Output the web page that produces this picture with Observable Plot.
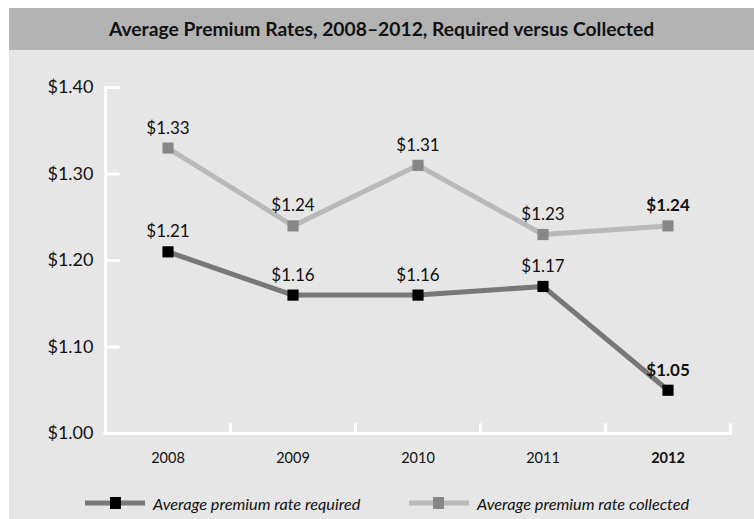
<!DOCTYPE html>
<html>
<head>
<meta charset="utf-8">
<script src="https://cdn.jsdelivr.net/npm/d3@7"></script>
<script src="https://cdn.jsdelivr.net/npm/@observablehq/plot@0.6"></script>
<style>
  html, body { margin: 0; padding: 0; background: #fff; }
  body { width: 754px; height: 519px; position: relative; overflow: hidden; font-family: Lato, "Open Sans", sans-serif; }
  #panel { position: absolute; left: 9px; top: 8px; width: 745px; height: 511px; background: #e6e6e6; }
  #title { height: 42px; line-height: 42px; background: #b3b3b3; text-align: center; font-weight: bold; font-size: 19.3px; color: #111; }
  #chart { position: absolute; left: 0; top: 42px; }
  .leg { position: absolute; top: 484px; height: 22px; display: flex; align-items: center; font-style: italic; font-size: 16.3px; color: #111; }
  .leg svg { display: block; margin-right: 8px; }
</style>
</head>
<body>
<div id="panel">
  <div id="title">Average Premium Rates, 2008–2012, Required versus Collected</div>
  <div id="chart"></div>
  <div class="leg" style="left:76px"><svg width="60" height="14"><line x1="0" x2="60" y1="7" y2="7" stroke="#777" stroke-width="5"/><rect x="25" y="1" width="11" height="12" fill="#000"/></svg>Average premium rate required</div>
  <div class="leg" style="left:400px"><svg width="60" height="14"><line x1="0" x2="60" y1="7" y2="7" stroke="#b9b9b9" stroke-width="5"/><rect x="24" y="1" width="11" height="12" fill="#878787"/></svg>Average premium rate collected</div>
</div>
<script>
const years = [2008, 2009, 2010, 2011, 2012];
const required = [1.21, 1.16, 1.16, 1.17, 1.05];
const collected = [1.33, 1.24, 1.31, 1.23, 1.24];
const yTicks = [1.00, 1.10, 1.20, 1.30, 1.40];
const boundaries = [2008.5, 2009.5, 2010.5, 2011.5, 2012.5];

const req = years.map((y, i) => ({year: y, value: required[i]}));
const col = years.map((y, i) => ({year: y, value: collected[i]}));
const fmt = v => "$" + v.toFixed(2);
const lineShape = {draw(context, l) { context.moveTo(0, 0); context.lineTo(0, -l); }};
const last = d => d.year === 2012;
const notLast = d => d.year !== 2012;

const chart = Plot.plot({
  width: 745,
  height: 430,
  margin: 0,
  style: {background: "transparent", fontFamily: "Lato, 'Open Sans', sans-serif", color: "#111"},
  x: {domain: [2007.5, 2012.5], range: [96, 721], axis: null},
  y: {domain: [1.0, 1.4], range: [383, 37], axis: null},
  marks: [
    // axes (white)
    Plot.ruleX([2007.5], {y1: 1.0, y2: 1.4, stroke: "#fff", strokeWidth: 3}),
    Plot.ruleY([1.0], {x1: 2007.5, x2: 2012.5, stroke: "#fff", strokeWidth: 3, strokeLinecap: "square"}),
    Plot.vector(yTicks, {x: 2007.5, y: d => d, length: 13, rotate: 90, anchor: "start", shape: lineShape, stroke: "#fff", strokeWidth: 3}),
    Plot.vector(boundaries, {x: d => d, y: 1.0, length: 9, rotate: 0, anchor: "start", shape: lineShape, stroke: "#fff", strokeWidth: 3}),
    Plot.text(yTicks, {x: 2007.5, y: d => d, text: fmt, textAnchor: "end", dx: -12, fontSize: 18, fill: "#111"}),
    Plot.text(years.filter(y => y !== 2012), {x: d => d, y: 1.0, text: d => String(d), dy: 25, fontSize: 14.5, fill: "#111"}),
    Plot.text([2012], {x: d => d, y: 1.0, text: d => String(d), dy: 25, fontSize: 14.5, fontWeight: "bold", fill: "#111"}),
    // series
    Plot.line(col, {x: "year", y: "value", stroke: "#b9b9b9", strokeWidth: 5}),
    Plot.line(req, {x: "year", y: "value", stroke: "#777", strokeWidth: 5}),
    Plot.dot(col, {x: "year", y: "value", symbol: "square", r: 6.3, fill: "#878787"}),
    Plot.dot(req, {x: "year", y: "value", symbol: "square", r: 6.3, fill: "#000"}),
    // value labels
    Plot.text(col.filter(notLast), {x: "year", y: "value", text: d => fmt(d.value), dy: -20, fontSize: 17, fill: "#111"}),
    Plot.text(req.filter(notLast), {x: "year", y: "value", text: d => fmt(d.value), dy: -20, fontSize: 17, fill: "#111"}),
    Plot.text(col.filter(last), {x: "year", y: "value", text: d => fmt(d.value), dy: -20, fontSize: 17, fontWeight: "bold", fill: "#111"}),
    Plot.text(req.filter(last), {x: "year", y: "value", text: d => fmt(d.value), dy: -20, fontSize: 17, fontWeight: "bold", fill: "#111"})
  ]
});
document.getElementById("chart").appendChild(chart);
</script>
</body>
</html>
